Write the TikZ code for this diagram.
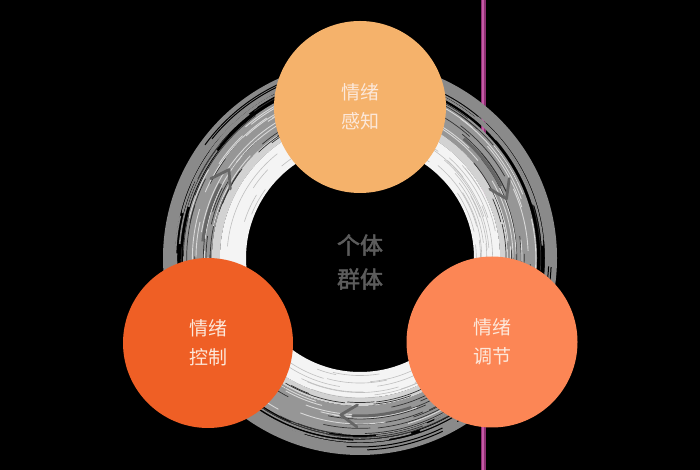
\documentclass[tikz,border=0pt]{standalone}
\usepackage{fontspec}
\newfontfamily\cjk{Noto Sans CJK SC}
\newfontfamily\cjkb[FakeBold=2]{Noto Sans CJK SC}
\definecolor{ctop}{HTML}{F5B26B}
\definecolor{cleft}{HTML}{EF5F25}
\definecolor{cright}{HTML}{FC8655}
\definecolor{txt}{HTML}{FCE8DA}
\definecolor{ctext}{HTML}{5C5C5C}
\definecolor{mag}{HTML}{8E2F73}
\definecolor{magl}{HTML}{C65AA6}
\definecolor{rout}{HTML}{8A8A8A}
\definecolor{rmid}{HTML}{969696}
\definecolor{rlight}{HTML}{D2D2D2}
\definecolor{rwhite}{HTML}{F4F4F4}
\definecolor{rarrow}{HTML}{666666}
\begin{document}
\begin{tikzpicture}[x=1pt,y=1pt,
  bubble/.style={circle, inner sep=0pt, minimum size=#1, text=txt,
    font=\cjk\fontsize{19}{29}\selectfont, align=center},
  chev/.style={draw=rarrow, line width=2.8pt, line cap=round, line join=round},
  streak/.style={line width=#1}]
\fill[black] (0,0) rectangle (700,470);
\useasboundingbox (0,0) rectangle (700,470);
% vertical magenta line
\coordinate (ltop) at (483,470);
\coordinate (lbot) at (483,0);
\draw[mag, line width=5pt] (ltop) -- (lbot);
\draw[magl, line width=1.6pt] (ltop) -- (lbot);
% sketchy ring
\begin{scope}[shift={(360,212)}]
  \fill[rout, even odd rule] (0,0) circle[radius=197pt] (0,0) circle[radius=185pt];
  \fill[rmid, even odd rule] (0,0) circle[radius=177pt] (0,0) circle[radius=148pt];
  \fill[rlight, even odd rule] (0,0) circle[radius=148pt] (0,0) circle[radius=140pt];
  \fill[rwhite, even odd rule] (0,0) circle[radius=140pt] (0,0) circle[radius=114pt];
  \pgfmathsetseed{12}
  % grey streaks in the gap
  \foreach \i in {1,...,45}{
    \pgfmathsetmacro\st{360*rnd}
    \pgfmathsetmacro\len{10+40*rnd}
    \pgfmathsetmacro\rr{177+8*rnd}
    \draw[rout, streak=1.6pt] (\st:\rr pt) arc[start angle=\st, delta angle=\len, radius=\rr pt];
  }
  % a few black streaks in the outer band
  \foreach \i in {1,...,12}{
    \pgfmathsetmacro\st{360*rnd}
    \pgfmathsetmacro\len{8+25*rnd}
    \pgfmathsetmacro\rr{188+6*rnd}
    \draw[black, streak=1pt] (\st:\rr pt) arc[start angle=\st, delta angle=\len, radius=\rr pt];
  }
  % dark streaks in the mid band
  \foreach \i in {1,...,90}{
    \pgfmathsetmacro\st{360*rnd}
    \pgfmathsetmacro\len{6+30*rnd}
    \pgfmathsetmacro\rr{142+40*rnd}
    \draw[black!80, streak=0.7pt] (\st:\rr pt) arc[start angle=\st, delta angle=\len, radius=\rr pt];
  }
  % lighter streaks in the mid band
  \foreach \i in {1,...,60}{
    \pgfmathsetmacro\st{360*rnd}
    \pgfmathsetmacro\len{6+30*rnd}
    \pgfmathsetmacro\rr{146+30*rnd}
    \draw[white!85!black, streak=0.9pt] (\st:\rr pt) arc[start angle=\st, delta angle=\len, radius=\rr pt];
  }
  % grey streaks in the white band
  \foreach \i in {1,...,60}{
    \pgfmathsetmacro\st{360*rnd}
    \pgfmathsetmacro\len{8+40*rnd}
    \pgfmathsetmacro\rr{116+24*rnd}
    \draw[black!25, streak=0.6pt] (\st:\rr pt) arc[start angle=\st, delta angle=\len, radius=\rr pt];
  }
  % darker guiding arcs
  \foreach \a in {150,25,-95}{
    \draw[rarrow, streak=3pt] (\a+2:158pt) arc[start angle=\a+2, delta angle=22, radius=158pt];
  }
  % arrowheads (clockwise)
  \foreach \a in {146,22,-97}{
    \coordinate (tip) at (\a:158pt);
    \coordinate (armA) at (\a+6:169pt);
    \coordinate (armB) at (\a+6:147pt);
    \draw[chev] (armA) -- (tip) -- (armB);
  }
\end{scope}
% circles
\node[bubble=172pt, fill=ctop] (perceive) at (360,363) {情绪\\感知};
\node[bubble=170pt, fill=cleft] (control) at (208,127) {情绪\\控制};
\node[bubble=171pt, fill=cright] (regulate) at (492,128) {情绪\\调节};
% center text
\node[text=ctext, font=\cjkb\fontsize{23}{34}\selectfont, align=center] (group) at (360,208) {个体\\群体};
\end{tikzpicture}
\end{document}
